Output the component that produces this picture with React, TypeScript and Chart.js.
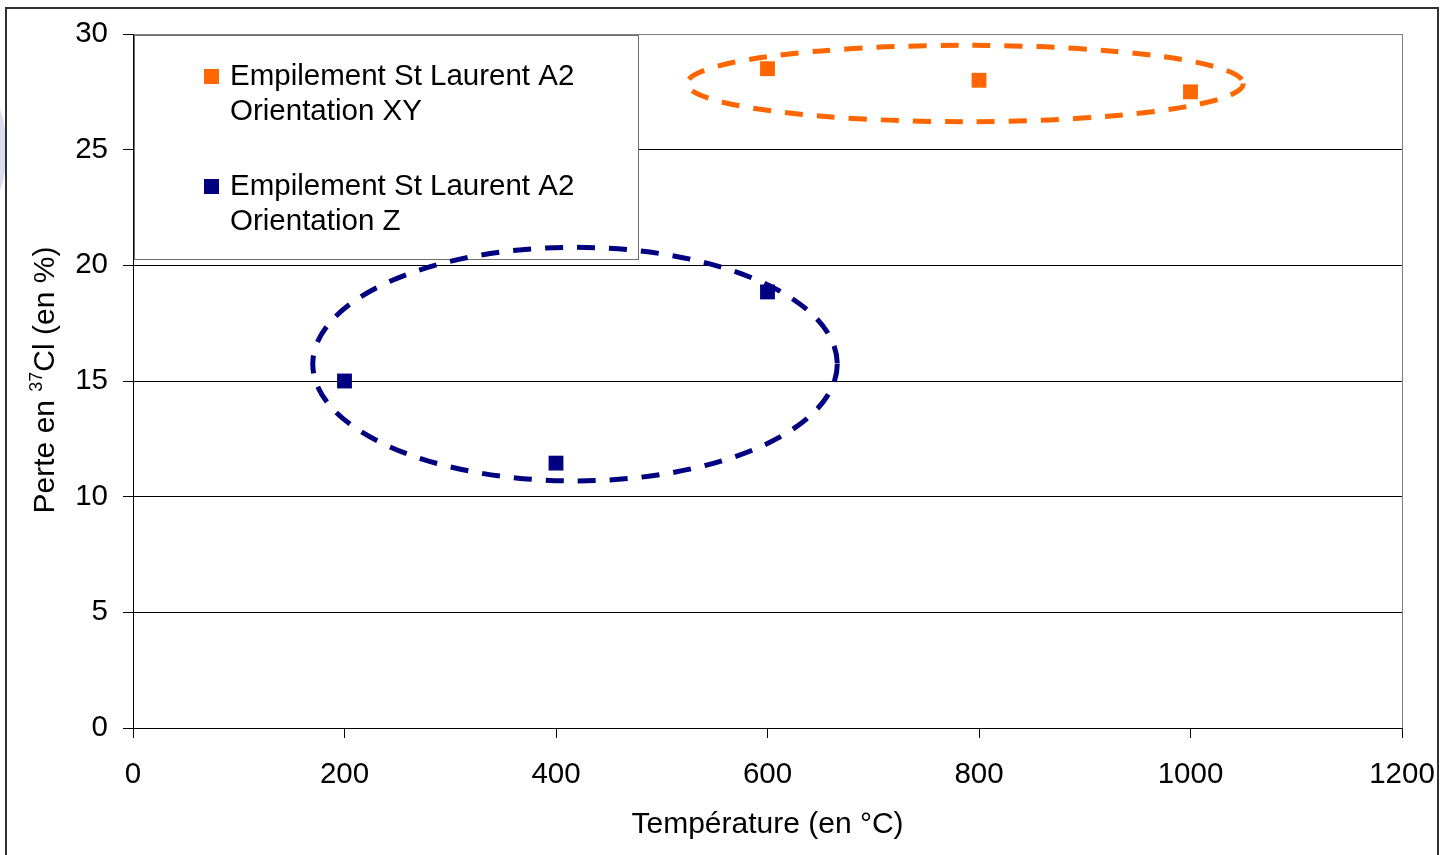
import { useEffect, useRef } from "react";
import { Chart, registerables } from "chart.js";

Chart.register(...registerables);

// ---- data ----
const xyTemperatures = [600, 800, 1000];
const xyLosses = [28.5, 28.0, 27.5];
const zTemperatures = [200, 400, 600];
const zLosses = [15.0, 11.45, 18.85];

const seriesNames = [
  ["Empilement St Laurent A2", "Orientation XY"],
  ["Empilement St Laurent A2", "Orientation Z"],
];
const seriesColors = ["#FF6600", "#000080"];

// grouping ellipses (data units)
const ellipseCentersX = [787, 418];
const ellipseCentersY = [27.86, 15.73];
const ellipseRadiiX = [263, 248];
const ellipseRadiiY = [1.65, 5.05];

const xAxisTitle = "Température (en °C)";
const yTitleBefore = "Perte en ";
const yTitleSup = "37";
const yTitleAfter = "Cl (en %)";

const FONT = "'Liberation Sans', Arial, sans-serif";
const FS = 29.5;
const TITLE_FS = 30;

const decorPlugin = {
  id: "decor",
  beforeDraw(chart: any) {
    const ctx = chart.ctx;
    ctx.save();
    ctx.fillStyle = "#ffffff";
    ctx.fillRect(0, 0, chart.width, chart.height);
    // faint lavender shape at left edge
    ctx.fillStyle = "#dcdcef";
    ctx.beginPath();
    ctx.ellipse(-28, 150, 35, 68, 0, 0, Math.PI * 2);
    ctx.fill();
    // outer frame
    ctx.strokeStyle = "#303030";
    ctx.lineWidth = 2;
    ctx.strokeRect(6, 8, 1432, 1000);
    ctx.restore();
  },
  beforeDatasetsDraw(chart: any) {
    const ctx = chart.ctx;
    const area = chart.chartArea;
    const xs = chart.scales.x;
    const ys = chart.scales.y;
    ctx.save();
    // legend box
    const lx = area.left + 1;
    const ly = area.top + 1;
    const lw = 504;
    const lh = 224;
    ctx.fillStyle = "#ffffff";
    ctx.fillRect(lx, ly, lw, lh);
    ctx.strokeStyle = "#6e6e6e";
    ctx.lineWidth = 1;
    ctx.strokeRect(lx + 0.5, ly + 0.5, lw, lh);
    ctx.font = `${FS}px ${FONT}`;
    ctx.textBaseline = "alphabetic";
    ctx.textAlign = "left";
    seriesNames.forEach((lines, i) => {
      const base = ly + 50 + i * 110;
      ctx.fillStyle = seriesColors[i];
      ctx.fillRect(lx + 70, base - 16, 15, 15);
      ctx.fillStyle = "#000000";
      lines.forEach((t, j) => {
        ctx.fillText(t, lx + 96, base + j * 35);
      });
    });
    // ellipses
    ctx.lineWidth = 5;
    ctx.setLineDash([18, 14]);
    ellipseCentersX.forEach((cx, i) => {
      const px = xs.getPixelForValue(cx);
      const py = ys.getPixelForValue(ellipseCentersY[i]);
      const rx = Math.abs(xs.getPixelForValue(cx + ellipseRadiiX[i]) - px);
      const ry = Math.abs(ys.getPixelForValue(ellipseCentersY[i] + ellipseRadiiY[i]) - py);
      ctx.strokeStyle = seriesColors[i];
      ctx.beginPath();
      ctx.ellipse(px, py, rx, ry, 0, 0, Math.PI * 2);
      ctx.stroke();
    });
    ctx.restore();
  },
  afterDraw(chart: any) {
    const ctx = chart.ctx;
    const area = chart.chartArea;
    ctx.save();
    ctx.fillStyle = "#000000";
    // x title
    ctx.font = `${TITLE_FS}px ${FONT}`;
    ctx.textAlign = "center";
    ctx.textBaseline = "alphabetic";
    ctx.fillText(xAxisTitle, (area.left + area.right) / 2, 833);
    // y title with superscript
    const supSize = 18;
    ctx.font = `${TITLE_FS}px ${FONT}`;
    const w1 = ctx.measureText(yTitleBefore).width;
    const w3 = ctx.measureText(yTitleAfter).width;
    ctx.font = `${supSize}px ${FONT}`;
    const w2 = ctx.measureText(yTitleSup).width;
    const total = w1 + w2 + w3;
    const cy = (area.top + area.bottom) / 2 - 1;
    ctx.translate(54, cy);
    ctx.rotate(-Math.PI / 2);
    ctx.textAlign = "left";
    let x = -total / 2;
    ctx.font = `${TITLE_FS}px ${FONT}`;
    ctx.fillText(yTitleBefore, x, 0);
    x += w1;
    ctx.font = `${supSize}px ${FONT}`;
    ctx.fillText(yTitleSup, x, -12);
    x += w2;
    ctx.font = `${TITLE_FS}px ${FONT}`;
    ctx.fillText(yTitleAfter, x, 0);
    ctx.restore();
  },
};

export default function App() {
  const ref = useRef<HTMLCanvasElement | null>(null);

  useEffect(() => {
    if (!ref.current) return;
    const chart = new Chart(ref.current, {
      type: "scatter",
      data: {
        datasets: [
          {
            label: seriesNames[0].join(" "),
            data: xyTemperatures.map((t, i) => ({ x: t, y: xyLosses[i] })),
            backgroundColor: seriesColors[0],
            borderColor: seriesColors[0],
            borderWidth: 0,
            pointStyle: "rect",
            pointRadius: 10.5,
          },
          {
            label: seriesNames[1].join(" "),
            data: zTemperatures.map((t, i) => ({ x: t, y: zLosses[i] })),
            backgroundColor: seriesColors[1],
            borderColor: seriesColors[1],
            borderWidth: 0,
            pointStyle: "rect",
            pointRadius: 10.5,
          },
        ],
      },
      options: {
        responsive: false,
        animation: false,
        layout: { padding: { top: 34, right: 40, left: 0, bottom: 0 } },
        plugins: {
          legend: { display: false },
          tooltip: { enabled: false },
        },
        scales: {
          x: {
            type: "linear",
            min: 0,
            max: 1200,
            afterFit: (s: any) => {
              s.height = 127;
              s.paddingRight = 0;
              s.paddingLeft = 0;
            },
            ticks: {
              stepSize: 200,
              padding: 19,
              color: "#000000",
              font: { family: FONT, size: FS },
              maxRotation: 0,
              callback: (v: any) => String(v),
            },
            grid: {
              drawOnChartArea: true,
              color: (c: any) => (c.tick && c.tick.value === 1200 ? "#808080" : "rgba(0,0,0,0)"),
              tickColor: "#000000",
              tickLength: 10,
              lineWidth: 1,
            },
            border: { color: "#000000", width: 1 },
          },
          y: {
            type: "linear",
            min: 0,
            max: 30,
            afterFit: (s: any) => {
              s.width = 133;
              s.paddingTop = 0;
              s.paddingBottom = 0;
            },
            ticks: {
              stepSize: 5,
              padding: 15,
              color: "#000000",
              font: { family: FONT, size: FS },
              callback: (v: any) => String(v),
            },
            grid: {
              color: (c: any) => (c.tick && c.tick.value === 30 ? "#808080" : "#000000"),
              tickColor: "#000000",
              tickLength: 10,
              lineWidth: 1,
            },
            border: { color: "#000000", width: 1 },
          },
        },
      },
      plugins: [decorPlugin],
    });
    return () => chart.destroy();
  }, []);

  return (
    <div style={{ position: "absolute", left: 0, top: 0, width: 1442, height: 855, overflow: "hidden" }}>
      <canvas ref={ref} width={1442} height={855} style={{ display: "block", width: 1442, height: 855 }} />
    </div>
  );
}
